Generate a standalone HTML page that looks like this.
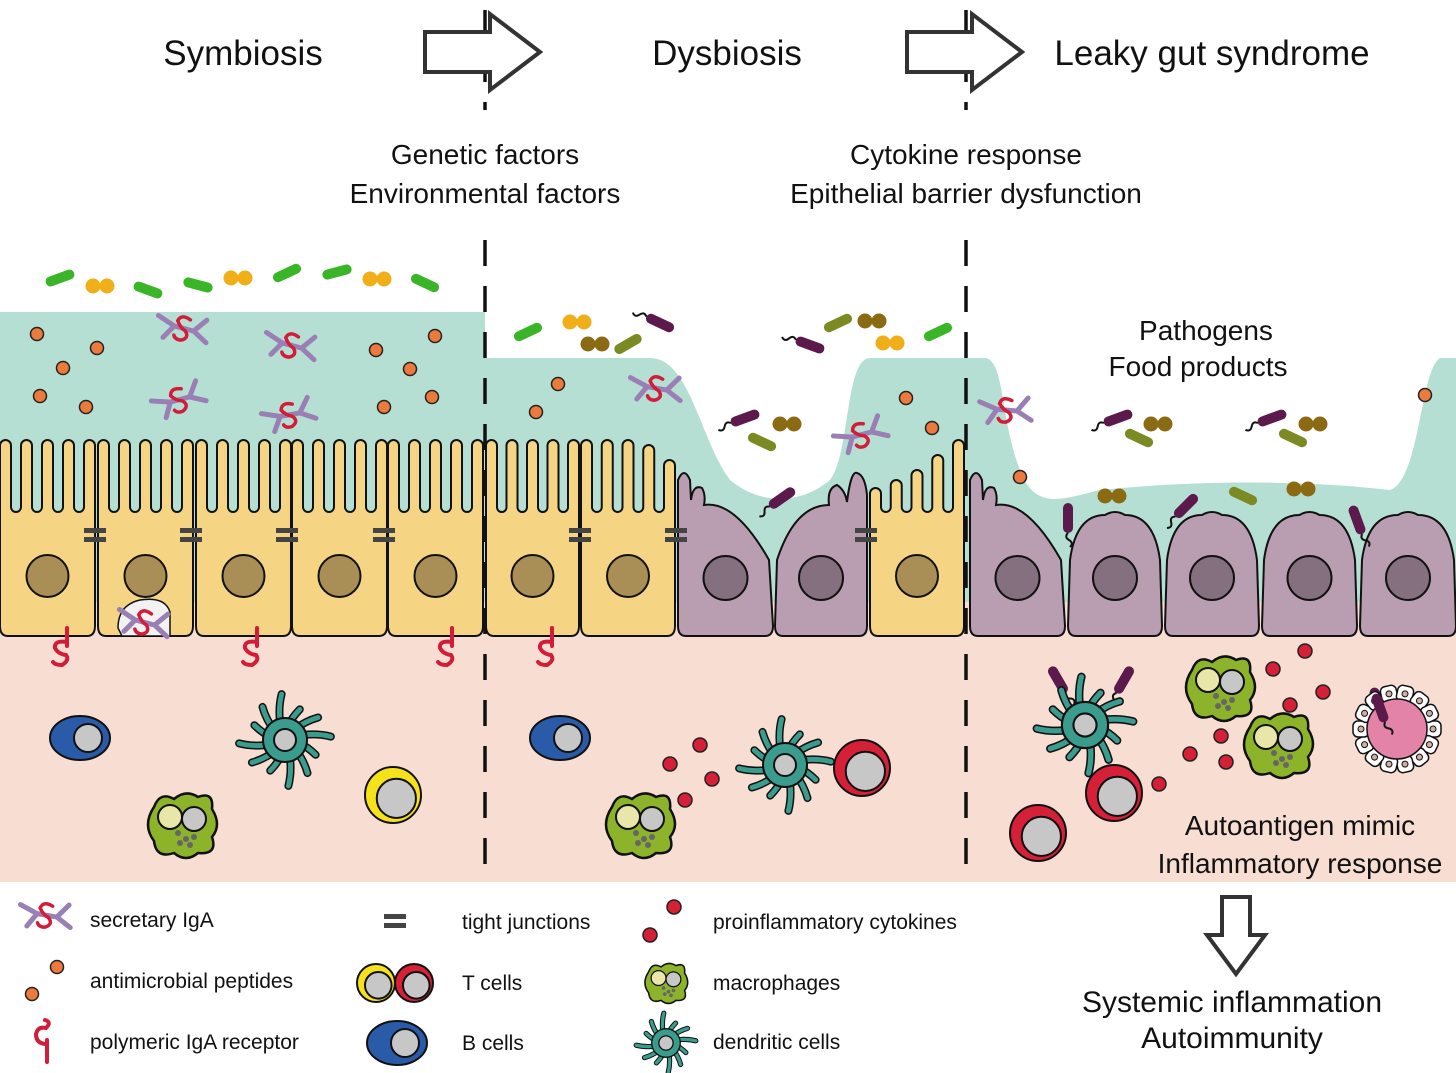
<!DOCTYPE html>
<html><head><meta charset="utf-8">
<style>
html,body{margin:0;padding:0;background:#fff;}
svg{display:block;}
text{font-family:"Liberation Sans",sans-serif;fill:#111;}
</style></head>
<body>
<svg id="s" xmlns="http://www.w3.org/2000/svg" width="1456" height="1073" viewBox="0 0 1456 1073">
<rect width="1456" height="1073" fill="#fff"/>
<rect x="0" y="597" width="1456" height="285" fill="#f7ddd2"/>
<rect x="0" y="312" width="485" height="290" fill="#b6dfd3"/>
<path d="M485,602 L485,358 L650,358 C690,358 700,440 730,480 C760,505 800,505 830,480 C850,455 845,358 870,358 L966,358 L966,602 Z" fill="#b6dfd3"/>
<path d="M966,602 L966,358 L985,358 C1005,360 1000,420 1020,470 C1035,510 1060,500 1100,490 C1200,480 1300,480 1390,490 C1420,480 1420,370 1440,358 L1456,358 L1456,602 Z" fill="#b6dfd3"/>
<g id="cells"></g>
<g id="items"></g>
<line x1="485" y1="0" x2="485" y2="882" stroke="#111" stroke-width="3.5" stroke-dasharray="26,20" stroke-dashoffset="-10"/>
<line x1="966" y1="0" x2="966" y2="882" stroke="#111" stroke-width="3.5" stroke-dasharray="26,20" stroke-dashoffset="-10"/>
<rect x="330" y="110" width="310" height="115" fill="#fff"/>
<rect x="770" y="110" width="390" height="115" fill="#fff"/>
<path d="M425,32 L490,32 L490,14 L540,52 L490,90 L490,72 L425,72 Z" fill="#fff" stroke="#333" stroke-width="4" stroke-linejoin="miter"/>
<path d="M907,32 L972,32 L972,14 L1022,52 L972,90 L972,72 L907,72 Z" fill="#fff" stroke="#333" stroke-width="4"/>
<path d="M1222,897 L1250,897 L1250,935 L1265,935 L1236,974 L1207,935 L1222,935 Z" fill="#fff" stroke="#333" stroke-width="4"/>
<g font-size="35" text-anchor="middle">
<text x="243" y="65">Symbiosis</text>
<text x="727" y="65">Dysbiosis</text>
<text x="1212" y="65">Leaky gut syndrome</text>
</g>
<g font-size="28" text-anchor="middle">
<text x="485" y="164">Genetic factors</text>
<text x="485" y="203">Environmental factors</text>
<text x="966" y="164">Cytokine response</text>
<text x="966" y="203">Epithelial barrier dysfunction</text>
<text x="1206" y="340">Pathogens</text>
<text x="1198" y="376">Food products</text>
<text x="1300" y="835">Autoantigen mimic</text>
<text x="1300" y="873">Inflammatory response</text>
</g>
<g font-size="30" text-anchor="middle">
<text x="1232" y="1012">Systemic inflammation</text>
<text x="1232" y="1048">Autoimmunity</text>
</g>
<g font-size="21">
<text x="90" y="927">secretary IgA</text>
<text x="90" y="988">antimicrobial peptides</text>
<text x="90" y="1049">polymeric IgA receptor</text>
<text x="462" y="929">tight junctions</text>
<text x="462" y="990">T cells</text>
<text x="462" y="1050">B cells</text>
<text x="713" y="929">proinflammatory cytokines</text>
<text x="713" y="990">macrophages</text>
<text x="713" y="1049">dendritic cells</text>
</g>
</svg>
<script>
const NS="http://www.w3.org/2000/svg";
const C=document.getElementById("cells"),I=document.getElementById("items");
function el(p,tag,a){const e=document.createElementNS(NS,tag);for(const k in a)e.setAttribute(k,a[k]);p.appendChild(e);return e;}
const BL=636;
function ycell(x,w,tips){
 const n=5,fw=11,valley=512;const st=(w-fw)/(n-1);
 let d=`M${x+8},${BL} Q${x},${BL} ${x},${BL-10} `;
 for(let i=0;i<n;i++){
  const fx=x+i*st,t=tips[i]||440;
  d+=`L${fx},${t+fw/2} A${fw/2},${fw/2} 0 0 1 ${fx+fw},${t+fw/2} `;
  if(i<n-1){const g=st-fw;d+=`L${fx+fw},${valley-g/2} A${g/2},${g/2} 0 0 0 ${fx+st},${valley-g/2} `;}
 }
 d+=`L${x+w},${BL-10} Q${x+w},${BL} ${x+w-8},${BL} Z`;
 el(C,"path",{d,fill:"#f5d584",stroke:"#111","stroke-width":2});
 el(C,"circle",{cx:x+w/2,cy:576,r:21,fill:"#a98e55",stroke:"#111","stroke-width":2});
}
function pcell(x,w,nubs,top){
 top=top||515;
 let d=`M${x+8},${BL} Q${x},${BL} ${x},${BL-10} `;
 if(nubs==="L"){d+=`L${x},${480} Q${x+6},${466} ${x+12},${480} L${x+13},${500} Q${x+15},${484} ${x+24},${488} Q${x+28},${495} ${x+26},${505} Q${x+w*0.6},${500} ${x+w-4},${560} `;}
 else if(nubs==="R"){d+=`L${x+2},${560} Q${x+20},${505} ${x+w-38},${505} Q${x+w-40},${488} ${x+w-30},${485} Q${x+w-22},${490} ${x+w-20},${502} Q${x+w-16},${470} ${x+w-10},${473} Q${x+w-2},${475} ${x+w},${495} `;}
 else {d+=`L${x+2},${560} Q${x+8},${top} ${x+w/2-10},${top} Q${x+w/2},${top-6} ${x+w/2+10},${top} Q${x+w-8},${top} ${x+w-2},${560} `;}
 d+=`L${x+w},${BL-10} Q${x+w},${BL} ${x+w-8},${BL} Z`;
 el(C,"path",{d,fill:"#b89eb0",stroke:"#111","stroke-width":2});
 el(C,"circle",{cx:x+w/2,cy:578,r:22,fill:"#84707f",stroke:"#111","stroke-width":2});
}
[0,98,196,292,388].forEach(x=>ycell(x,95,[]));
ycell(486,93,[]);ycell(581,94,[440,440,440,445,460]);
pcell(678,95,"L");pcell(775,92,"R");
ycell(870,94,[488,480,470,455,440]);
pcell(970,95,"L");pcell(1068,94);pcell(1165,94);pcell(1262,95);pcell(1360,96);
el(C,"path",{d:"M118,628 Q118,605 140,600 Q165,596 170,612 L170,636 L122,636 Z",fill:"#f2f2f2",stroke:"#111","stroke-width":1.5});
function tj(x,y,g){g=g||I;el(g,"rect",{x:x-11,y:y-8,width:22,height:5,fill:"#444"});el(g,"rect",{x:x-11,y:y+1,width:22,height:5,fill:"#444"});}
[95,191,287,384,580,676,866].forEach(x=>tj(x,536));
function pigr(x,y){el(I,"path",{d:`M${x+7},${y} L${x+7},${y+18} M${x+7},${y+14} Q${x-6},${y+12} ${x-5},${y+20} Q${x-2},${y+26} ${x+6},${y+27} Q${x+10},${y+32} ${x+2},${y+37} Q${x-5},${y+37} ${x-7},${y+34}`,fill:"none",stroke:"#d21d3a","stroke-width":4,"stroke-linecap":"round"});}
[60,250,445,545].forEach(x=>pigr(x,628));
function iga(x,y,rot){const g=el(I,"g",{transform:`translate(${x},${y}) rotate(${rot||0})`});
 el(g,"path",{d:"M-26,-6 L-8,0 L-16,14 M-8,0 L12,0 M12,0 L22,-14 M12,0 L27,8",fill:"none",stroke:"#9a7fb4","stroke-width":5,"stroke-linecap":"round"});
 el(g,"path",{d:"M6,-10 Q-4,-14 -6,-6 Q-2,0 4,2 Q10,8 2,12 Q-4,13 -6,9",fill:"none",stroke:"#d21d3a","stroke-width":3.5,"stroke-linecap":"round"});}
iga(182,328,15);iga(290,345,15);iga(178,400,-15);iga(288,415,-10);iga(143,622,15);
iga(655,388,10);iga(860,435,-15);iga(1005,410,5);
function amp(x,y,g){el(g||I,"circle",{cx:x,cy:y,r:6.5,fill:"#ec7a3c",stroke:"#222","stroke-width":1.5});}
[[37,334],[97,348],[63,368],[40,396],[86,407],[435,336],[376,350],[410,369],[384,407],[432,397],[558,384],[536,412],[906,398],[932,428],[1020,477],[1425,395]].forEach(p=>amp(p[0],p[1]));
function rod(x,y,a,col,g){const gg=el(g||I,"g",{transform:`translate(${x},${y}) rotate(${a})`});el(gg,"rect",{x:-15,y:-5,width:30,height:10,rx:5,fill:col});return gg;}
function dip(x,y,col,g){el(g||I,"circle",{cx:x-7,cy:y,r:7.5,fill:col});el(g||I,"circle",{cx:x+7,cy:y,r:7.5,fill:col});}
function path(x,y,a,g){const gg=rod(x,y,a,"#5b1a4b",g);el(gg,"path",{d:"M-15,0 Q-19,-4 -22,1 Q-25,6 -29,2",fill:"none",stroke:"#111","stroke-width":2});}
const G="#3ab527",Y="#f0ae18",O="#7b8a22",B="#8a6a12";
rod(60,278,-20,G);dip(100,286,Y);rod(148,290,20,G);rod(198,285,15,G);dip(238,278,Y);rod(287,273,-25,G);rod(337,272,-15,G);dip(377,279,Y);rod(425,283,25,G);
rod(528,332,-25,G);dip(577,322,Y);dip(595,344,B);rod(628,344,-30,O);path(660,323,25);
path(810,345,20);rod(838,323,-25,O);dip(872,321,B);dip(890,343,Y);rod(938,332,-25,G);
path(745,418,-20);dip(787,424,B);rod(762,442,25,O);path(782,498,-35);
path(1118,418,-20);dip(1158,424,B);rod(1139,438,25,O);dip(1112,496,B);path(1068,518,-90);path(1186,506,-45);
path(1272,418,-20);dip(1313,424,B);rod(1293,438,25,O);rod(1243,496,25,O);dip(1301,489,B);path(1357,520,-110);
path(1058,680,-120);path(1124,680,-60);path(1378,702,-110);
function bcell(x,y,g){g=g||I;el(g,"path",{d:`M${x-18},${y-18} L${x-12},${y-12} L${x-8},${y-22}`,fill:"none",stroke:"#7a6aa8","stroke-width":2});el(g,"ellipse",{cx:x,cy:y,rx:30,ry:22,fill:"#2a5ba8",stroke:"#111","stroke-width":2});el(g,"circle",{cx:x+8,cy:y,r:14,fill:"#c7c7c7",stroke:"#111","stroke-width":2});}
function tcell(x,y,col,r,g){g=g||I;r=r||27;el(g,"circle",{cx:x,cy:y,r,fill:col,stroke:"#111","stroke-width":2});el(g,"circle",{cx:x+r*0.12,cy:y+r*0.12,r:r*0.7,fill:"#c7c7c7",stroke:"#111","stroke-width":2});}
function dcell(x,y,s,g){g=el(g||I,"g",{transform:`translate(${x},${y}) scale(${s})`});
 let d="";for(let i=0;i<12;i++){const a=i*Math.PI/6+0.2,b=a+0.25,L=34+(i%3)*6;d+=`M${Math.cos(a)*14},${Math.sin(a)*14} Q${Math.cos(a+0.1)*L*0.7},${Math.sin(a+0.1)*L*0.7} ${Math.cos(b)*L},${Math.sin(b)*L} `;}
 el(g,"path",{d,fill:"none",stroke:"#111","stroke-width":8,"stroke-linecap":"round"});
 el(g,"path",{d,fill:"none",stroke:"#3a9c8d","stroke-width":5,"stroke-linecap":"round"});
 el(g,"circle",{r:22,fill:"#3a9c8d",stroke:"#111","stroke-width":2});
 el(g,"circle",{r:11,fill:"#c7c7c7",stroke:"#111","stroke-width":2});}
function mcell(x,y,s,g){g=el(g||I,"g",{transform:`translate(${x},${y}) scale(${s})`});
 el(g,"path",{d:"M-28,-18 Q-22,-34 -8,-26 Q4,-36 16,-28 Q32,-34 30,-16 Q40,0 30,12 Q36,30 16,28 Q4,38 -8,28 Q-26,34 -28,16 Q-40,0 -28,-18 Z",fill:"#8db32b",stroke:"#111","stroke-width":2.5});
 el(g,"circle",{cx:-12,cy:-8,r:12,fill:"#e8e6a8",stroke:"#111","stroke-width":2});
 el(g,"circle",{cx:12,cy:-6,r:12,fill:"#c7c7c7",stroke:"#111","stroke-width":2});
 [[-4,8],[4,14],[12,12],[-2,18],[8,20]].forEach(p=>el(g,"circle",{cx:p[0],cy:p[1],r:3,fill:"#666"}));}
bcell(80,738);dcell(285,740,1);tcell(393,795,"#f6e21a",28);mcell(182,825,1);
bcell(560,738);mcell(640,825,1);dcell(785,765,1);tcell(862,768,"#d52038",28);
dcell(1085,725,1.05);tcell(1114,793,"#d52038",28);tcell(1038,833,"#d52038",28);mcell(1220,688,1);mcell(1278,745,1);
function cyt(x,y,g){el(g||I,"circle",{cx:x,cy:y,r:7,fill:"#d52038",stroke:"#222","stroke-width":1.5});}
[[700,745],[670,764],[712,779],[685,800],[1305,651],[1273,669],[1323,692],[1290,705],[1221,736],[1190,754],[1226,762],[1159,784]].forEach(p=>cyt(p[0],p[1]));
(function(){const cx=1397,cy=729;for(let i=0;i<14;i++){const a=i*Math.PI/7;const x=cx+Math.cos(a)*36,y=cy+Math.sin(a)*36;el(I,"rect",{x:x-8,y:y-8,width:16,height:16,rx:5,fill:"#fff",stroke:"#111","stroke-width":1.5,transform:`rotate(${a*180/Math.PI} ${x} ${y})`});el(I,"circle",{cx:x,cy:y,r:3,fill:"#cfb0a0",stroke:"#111","stroke-width":1});}
el(I,"circle",{cx,cy,r:30,fill:"#e483a8",stroke:"#111","stroke-width":1.5});path(1380,708,-110);})();
iga(45,915,10);amp(57,967);amp(32,994);
el(I,"path",{d:"M47,1062 L47,1040 M47,1044 Q36,1044 36,1034 Q38,1026 46,1028 Q52,1022 45,1020",fill:"none",stroke:"#d21d3a","stroke-width":4,"stroke-linecap":"round"});
tj(395,922);tcell(376,983,"#f6e21a",19);tcell(414,983,"#d52038",19);bcell(397,1043);
cyt(674,907);cyt(650,935);mcell(666,983,0.62);dcell(666,1043,0.65);
</script>
</body></html>
